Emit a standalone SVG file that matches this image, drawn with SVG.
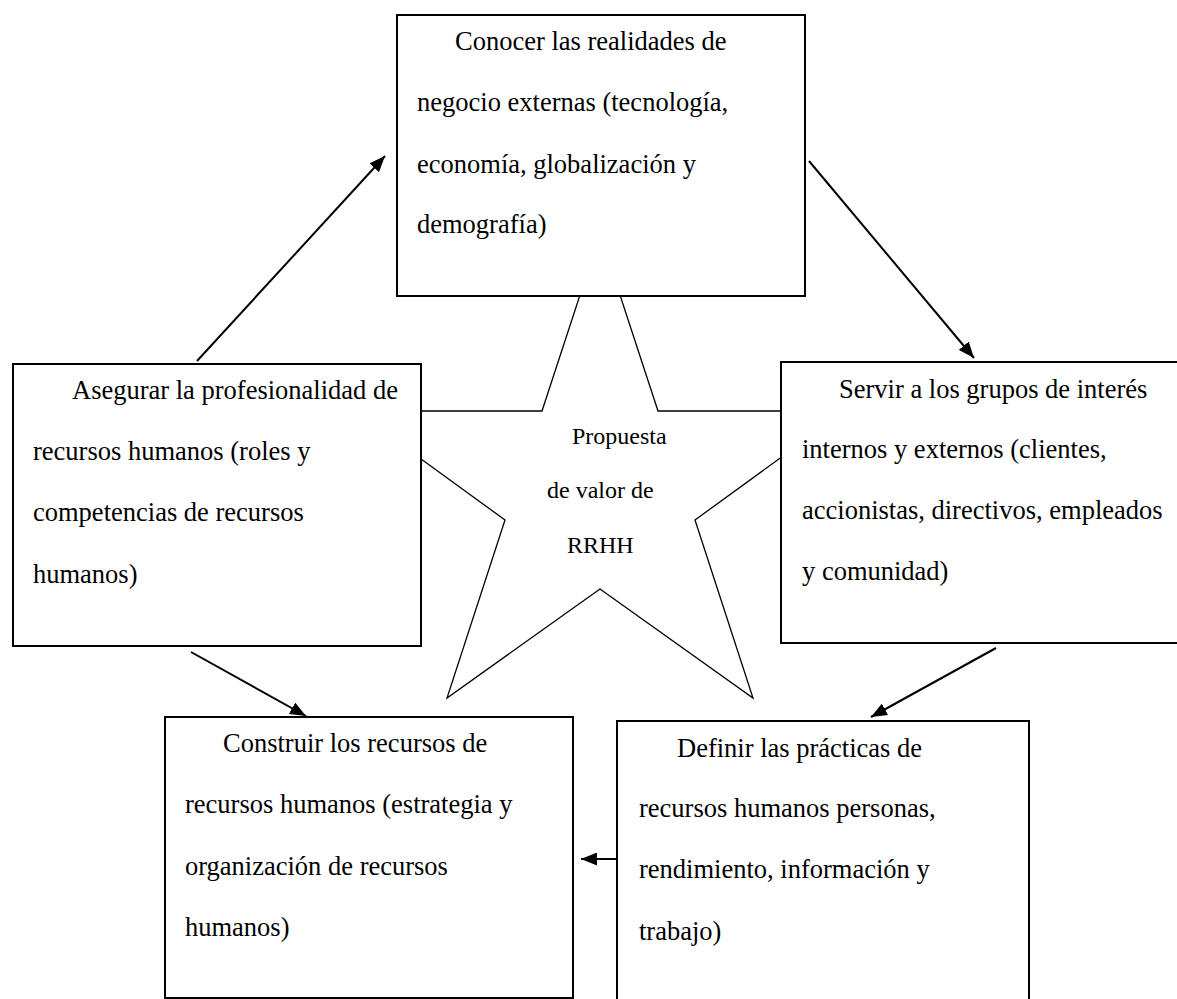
<svg xmlns="http://www.w3.org/2000/svg" width="1177" height="999" viewBox="0 0 1177 999">
  <defs>
    <marker id="head" markerUnits="userSpaceOnUse" markerWidth="17" markerHeight="13" refX="16" refY="6.5" orient="auto">
      <path d="M0,0 L16,6.5 L0,13 z" fill="#000"/>
    </marker>
  </defs>
  <style>
    .box { fill: #fff; stroke: #000; stroke-width: 2; }
    .star { fill: #fff; stroke: #000; stroke-width: 1.3; stroke-linejoin: miter; }
    .t { font-family: "Liberation Serif", "Times New Roman", serif; font-size: 26.5px; fill: #000; }
    .ts { font-family: "Liberation Serif", "Times New Roman", serif; font-size: 24px; fill: #000; }
    .conn { stroke: #000; stroke-width: 2; fill: none; marker-end: url(#head); }
  </style>
  <rect width="1177" height="999" fill="#fff"/>

  <!-- central star, its outer points tucked behind the boxes -->
  <g id="star">
    <polygon class="star" points="600,234 658,411 845,411 695,520 753,698 600,589 447,698 505,520 355,411 542,411"/>
    <text class="ts" x="572" y="444">Propuesta</text>
    <text class="ts" x="547" y="498">de valor de</text>
    <text class="ts" x="567" y="553">RRHH</text>
  </g>

  <g id="conocer">
    <rect class="box" x="397" y="15" width="408" height="281"/>
    <text class="t" x="455" y="50">Conocer las realidades de</text>
    <text class="t" x="417" y="111">negocio externas (tecnología,</text>
    <text class="t" x="417" y="173">economía, globalización y</text>
    <text class="t" x="417" y="233">demografía)</text>
  </g>

  <g id="asegurar">
    <rect class="box" x="13" y="364" width="408" height="282"/>
    <text class="t" x="72" y="399">Asegurar la profesionalidad de</text>
    <text class="t" x="33" y="460">recursos humanos (roles y</text>
    <text class="t" x="33" y="521">competencias de recursos</text>
    <text class="t" x="33" y="583">humanos)</text>
  </g>

  <g id="servir">
    <rect class="box" x="781" y="362" width="430" height="281"/>
    <text class="t" x="839" y="398">Servir a los grupos de interés</text>
    <text class="t" x="802" y="458">internos y externos (clientes,</text>
    <text class="t" x="802" y="519">accionistas, directivos, empleados</text>
    <text class="t" x="802" y="580">y comunidad)</text>
  </g>

  <g id="construir">
    <rect class="box" x="165" y="717" width="408" height="281"/>
    <text class="t" x="223" y="752">Construir los recursos de</text>
    <text class="t" x="185" y="813">recursos humanos (estrategia y</text>
    <text class="t" x="185" y="875">organización de recursos</text>
    <text class="t" x="185" y="936">humanos)</text>
  </g>

  <g id="definir">
    <rect class="box" x="617" y="721" width="412" height="300"/>
    <text class="t" x="677" y="757">Definir las prácticas de</text>
    <text class="t" x="639" y="817">recursos humanos personas,</text>
    <text class="t" x="639" y="878">rendimiento, información y</text>
    <text class="t" x="639" y="940">trabajo)</text>
  </g>

  <g id="connectors">
    <line class="conn" x1="197" y1="361" x2="385" y2="156"/>
    <line class="conn" x1="809" y1="161" x2="974" y2="358"/>
    <line class="conn" x1="191" y1="652" x2="306" y2="716"/>
    <line class="conn" x1="996" y1="648" x2="871" y2="717"/>
    <line class="conn" x1="618" y1="859" x2="581" y2="859"/>
  </g>
</svg>
